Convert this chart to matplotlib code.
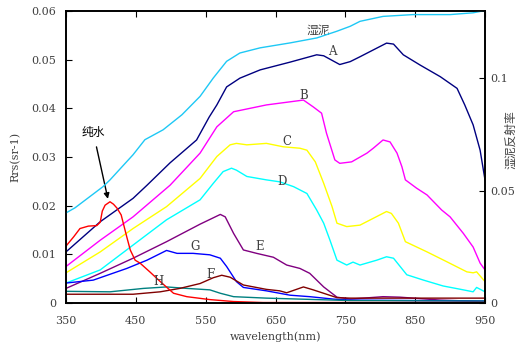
#!/usr/bin/env python3

import matplotlib

matplotlib.use('Agg')

import matplotlib.pyplot as plt  # noqa: E402

plt.rcParams['font.family'] = ['DejaVu Serif', 'Noto Sans CJK SC']
plt.rcParams['font.size'] = 8

# wet mud reflectance (right axis)
MUD_WL = [350, 363, 403, 413, 446, 463, 489, 516, 542, 561, 580, 599, 628, 671,
          709, 738, 757, 771, 804, 847, 900, 933, 950]
MUD_R = [0.0401, 0.0424, 0.0518, 0.0548, 0.0660, 0.0727, 0.0771, 0.0838, 0.0920,
         0.1002, 0.1076, 0.1113, 0.1136, 0.1158, 0.1180, 0.1210, 0.1232, 0.1254,
         0.1276, 0.1284, 0.1284, 0.1292, 0.1302]

A_WL = [350, 399, 446, 466, 499, 537, 555, 566, 580, 599, 628, 671, 709, 719, 742,
        757, 771, 790, 809, 819, 833, 857, 886, 910, 921, 933, 943, 950]
A_R = [0.0105, 0.0167, 0.0215, 0.0242, 0.0288, 0.0335, 0.0382, 0.0407, 0.0444,
       0.0462, 0.0479, 0.0495, 0.0510, 0.0508, 0.0490, 0.0496, 0.0506, 0.0520,
       0.0534, 0.0532, 0.0510, 0.0489, 0.0465, 0.0441, 0.0407, 0.0366, 0.0314, 0.0253]

B_WL = [350, 399, 446, 499, 542, 566, 590, 637, 690, 704, 716, 723, 735, 742, 759,
        781, 790, 804, 814, 824, 831, 836, 852, 867, 888, 900, 919, 933, 943, 950]
B_R = [0.0075, 0.0129, 0.0177, 0.0242, 0.0308, 0.0362, 0.0393, 0.0407, 0.0417,
       0.0403, 0.0390, 0.0349, 0.0294, 0.0287, 0.0290, 0.0308, 0.0318, 0.0335,
       0.0331, 0.0308, 0.0280, 0.0253, 0.0236, 0.0222, 0.0191, 0.0177, 0.0143,
       0.0115, 0.0082, 0.0068]

C_WL = [350, 399, 446, 494, 542, 566, 585, 594, 609, 637, 661, 685, 695, 707, 719,
        731, 738, 752, 771, 790, 809, 816, 826, 836, 867, 895, 924, 933, 938, 950]
C_R = [0.0062, 0.0105, 0.0153, 0.0198, 0.0256, 0.0301, 0.0325, 0.0328, 0.0325,
       0.0328, 0.0321, 0.0318, 0.0314, 0.0290, 0.0246, 0.0198, 0.0164, 0.0157,
       0.0160, 0.0174, 0.0188, 0.0184, 0.0164, 0.0126, 0.0105, 0.0085, 0.0064,
       0.0062, 0.0064, 0.0044]

D_WL = [350, 399, 446, 494, 542, 561, 575, 587, 594, 609, 637, 656, 676, 695, 709,
        719, 728, 738, 752, 761, 771, 795, 809, 819, 838, 862, 890, 919, 933, 938, 950]
D_R = [0.0041, 0.0068, 0.0119, 0.0171, 0.0212, 0.0246, 0.0270, 0.0277, 0.0273,
       0.0260, 0.0253, 0.0249, 0.0239, 0.0225, 0.0191, 0.0164, 0.0129, 0.0088,
       0.0078, 0.0084, 0.0078, 0.0088, 0.0095, 0.0092, 0.0058, 0.0047, 0.0035,
       0.0027, 0.0023, 0.0032, 0.0023]

E_WL = [350, 399, 446, 494, 542, 571, 578, 590, 604, 623, 647, 666, 685, 699, 719,
        738, 757, 804, 828, 886, 950]
E_R = [0.0030, 0.0061, 0.0092, 0.0126, 0.0162, 0.0182, 0.0177, 0.0143, 0.0109,
       0.0102, 0.0094, 0.0078, 0.0071, 0.0061, 0.0033, 0.0012, 0.0008, 0.0013,
       0.0012, 0.0006, 0.0003]

F_WL = [350, 446, 485, 513, 542, 561, 573, 585, 604, 637, 656, 666, 690, 704, 738,
        757, 950]
F_R = [0.0018, 0.0018, 0.0023, 0.0030, 0.0040, 0.0052, 0.0057, 0.0053, 0.0037,
       0.0028, 0.0025, 0.0021, 0.0033, 0.0027, 0.0011, 0.0010, 0.0010]

G_WL = [350, 389, 437, 466, 494, 509, 532, 556, 571, 580, 594, 604, 637, 671, 699,
        733, 757, 950]
G_R = [0.0041, 0.0047, 0.0071, 0.0088, 0.0108, 0.0102, 0.0102, 0.0099, 0.0092,
       0.0075, 0.0044, 0.0032, 0.0025, 0.0016, 0.0013, 0.0008, 0.0006, 0.0004]

H_WL = [350, 413, 461, 494, 523, 556, 571, 590, 637, 685, 757, 950]
H_R = [0.0024, 0.0023, 0.0030, 0.0033, 0.0030, 0.0027, 0.0020, 0.0013, 0.0010,
       0.0008, 0.0005, 0.0004]

# pure water
W_WL = [350, 361, 370, 382, 394, 399, 402, 406, 413, 418, 423, 429, 437, 442, 449,
        456, 470, 485, 504, 523, 556, 590, 632, 950]
W_R = [0.0117, 0.0136, 0.0153, 0.0158, 0.0159, 0.0166, 0.0189, 0.0201, 0.0208,
       0.0203, 0.0195, 0.0181, 0.0136, 0.0109, 0.0088, 0.0082, 0.0064, 0.0044,
       0.0020, 0.0013, 0.0007, 0.0003, 0.0001, 0.0001]

SERIES = [
    (A_WL, A_R, '#000080'),
    (B_WL, B_R, '#ff00ff'),
    (C_WL, C_R, '#ffff00'),
    (D_WL, D_R, '#00ffff'),
    (E_WL, E_R, '#800080'),
    (G_WL, G_R, '#0000ff'),
    (H_WL, H_R, '#008080'),
    (F_WL, F_R, '#800000'),
    (W_WL, W_R, '#ff0000'),
]

CURVE_LABELS = ['A', 'B', 'C', 'D', 'E', 'F', 'G', 'H']
CURVE_LABEL_POS = [(731, 0.0516), (691, 0.0427), (667, 0.0331), (659, 0.0249),
                   (628, 0.0116), (557, 0.0058), (535, 0.0116), (482, 0.0044)]

TEXT_COLOR = '#404040'


def main():
    fig = plt.figure(figsize=(5.18, 3.47), dpi=100)
    axis = fig.add_axes([66 / 518, 1 - 303 / 347, 419 / 518, 292 / 347])
    axis2 = axis.twinx()

    for wl, refl, color in SERIES:
        axis.plot(wl, refl, color=color, lw=1.0)
    axis2.plot(MUD_WL, MUD_R, color='#1ec8f5', lw=1.0)

    axis.set_xlim(350, 950)
    axis.set_ylim(0, 0.06)
    axis2.set_ylim(0, 0.13)

    axis.set_xticks([350, 450, 550, 650, 750, 850, 950])
    axis.set_yticks([0, 0.01, 0.02, 0.03, 0.04, 0.05, 0.06])
    axis.set_yticklabels(['0', '0.01', '0.02', '0.03', '0.04', '0.05', '0.06'])
    axis2.set_yticks([0, 0.05, 0.1])
    axis2.set_yticklabels(['0', '0.05', '0.1'])

    axis.tick_params(axis='x', direction='in', top=True, length=4, pad=9,
                     labelcolor=TEXT_COLOR)
    axis.tick_params(axis='y', direction='in', length=4, pad=7,
                     labelcolor=TEXT_COLOR)
    axis2.tick_params(axis='y', direction='in', length=4, pad=3.5,
                      labelcolor=TEXT_COLOR)

    for spine in list(axis.spines.values()) + list(axis2.spines.values()):
        spine.set_linewidth(1.2)

    axis.set_xlabel('wavelength(nm)', color=TEXT_COLOR, labelpad=4)
    axis.set_ylabel('Rrs(sr-1)', color=TEXT_COLOR, labelpad=8)
    fig.text(511 / 518, 1 - 140 / 347, '湿泥反射率', rotation=90, ha='center',
             va='center', color=TEXT_COLOR, fontsize=8.5)

    for label, (x, y) in zip(CURVE_LABELS, CURVE_LABEL_POS):
        axis.text(x, y, label, ha='center', va='center', color=TEXT_COLOR,
                  fontsize=8.5)
    axis.text(711, 0.0561, '湿泥', ha='center', va='center', color=TEXT_COLOR,
              fontsize=8.5)
    axis.annotate('纯水', xy=(410, 0.0214), xytext=(389, 0.0351), ha='center',
                  va='center', color='black', fontsize=8.5,
                  arrowprops=dict(arrowstyle='-|>', color='black', lw=1.0,
                                  mutation_scale=8, shrinkA=4, shrinkB=0))

    fig.savefig('out.png', dpi=100)
    plt.close(fig)


if __name__ == '__main__':
    main()
